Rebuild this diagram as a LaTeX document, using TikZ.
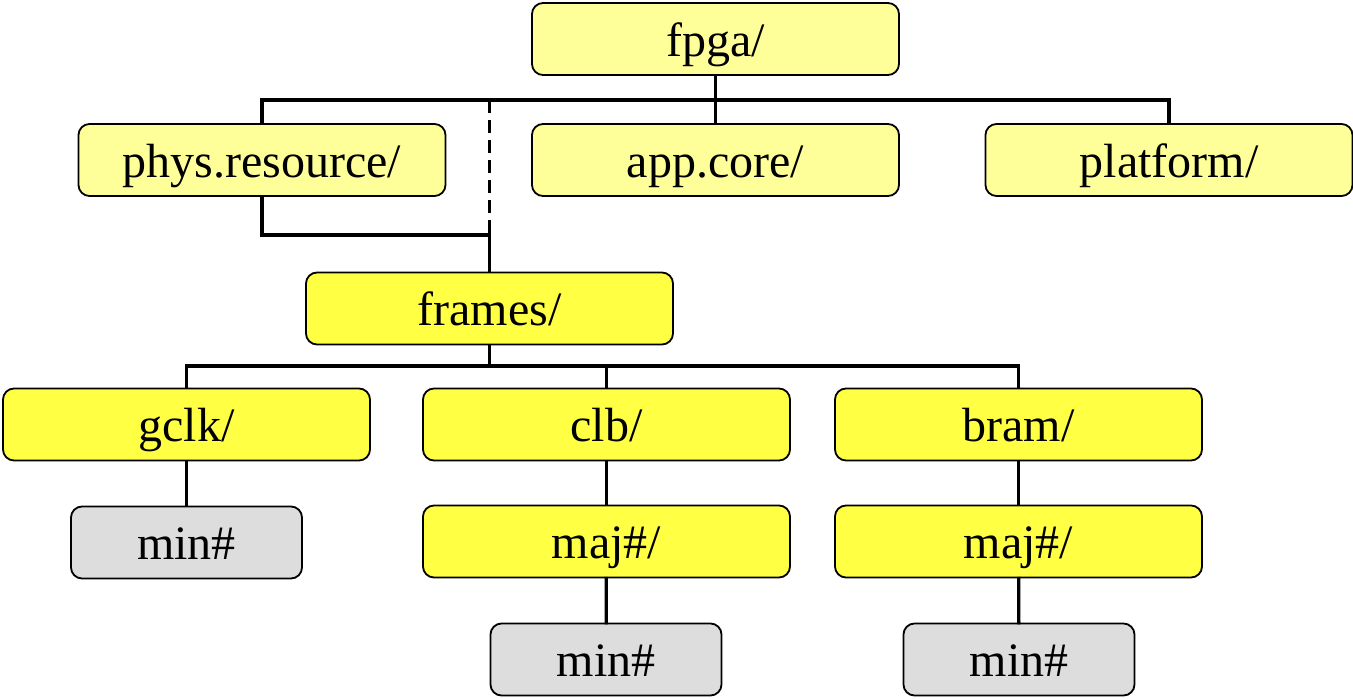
\documentclass[tikz,border=0pt]{standalone}
\usepackage{fontspec}
\setmainfont{Liberation Serif}
\begin{document}
\begin{tikzpicture}[x=1pt,y=-1pt,
  box/.style={draw=black,line width=1.8pt,rounded corners=11pt,inner sep=0pt,
    minimum width=367pt,minimum height=72pt,text height=40pt,text depth=6pt,
    font=\fontsize{48}{52}\selectfont},
  pale/.style={box,fill=paleyellow},
  bright/.style={box,fill=brightyellow},
  leaf/.style={box,fill=leafgray,minimum width=231pt},
  link/.style={line width=3.3pt,line cap=rect}]
\definecolor{paleyellow}{RGB}{255,255,153}
\definecolor{brightyellow}{RGB}{255,255,68}
\definecolor{leafgray}{RGB}{221,221,221}
\useasboundingbox (0,0) rectangle (1353,699);
% directory nodes
\node[pale] (fpga) at (715.5,39) {fpga/};
\node[pale] (phys) at (262,160) {phys.resource/};
\node[pale] (app) at (715.5,160) {app.core/};
\node[pale] (plat) at (1169,160) {platform/};
\node[bright] (frames) at (489.5,308.5) {frames/};
\node[bright] (gclk) at (186.5,424.5) {gclk/};
\node[bright] (clb) at (606.5,424.5) {clb/};
\node[bright] (bram) at (1018.5,424.5) {bram/};
\node[leaf] (gmin) at (186.5,542.5) {min\#};
\node[bright] (cmaj) at (606.5,541.5) {maj\#/};
\node[bright] (bmaj) at (1018.5,541.5) {maj\#/};
\node[leaf] (cmin) at (606,659.5) {min\#};
\node[leaf] (bmin) at (1019,659.5) {min\#};
% junction points of the tree lines
\coordinate (topbus) at (715.5,100);
\coordinate (dashtop) at (489.5,100);
\coordinate (join) at (489.5,235);
\coordinate (midbus) at (489.5,366);
% top level
\draw[link] (fpga.south) -- (topbus);
\draw[link] (phys.north) |- (topbus) -| (plat.north);
\draw[link] (topbus) -- (app.north);
\draw[line width=3.3pt,dash pattern=on 13pt off 7pt] (dashtop) -- (join);
\draw[link] (phys.south) |- (join) -- (frames.north);
% frames subtree
\draw[link] (frames.south) -- (midbus);
\draw[link] (gclk.north) |- (midbus) -| (bram.north);
\draw[link] (clb.north |- midbus) -- (clb.north);
\draw[link] (gclk) -- (gmin);
\draw[link] (clb) -- (cmaj);
\draw[link] (cmaj) -- (cmin);
\draw[link] (bram) -- (bmaj);
\draw[link] (bmaj) -- (bmin);
\end{tikzpicture}
\end{document}
